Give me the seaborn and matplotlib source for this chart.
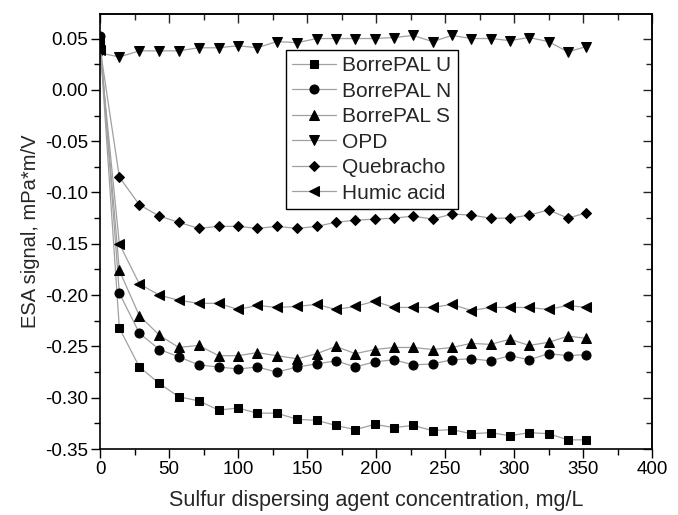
import pandas as pd
import matplotlib.pyplot as plt
import seaborn as sns
from matplotlib.ticker import MultipleLocator

# concentration, mg/L
conc = [0, 14, 28.5, 43, 57, 71.5, 86, 100, 114, 128, 143, 157, 171,
        185, 199, 213, 227, 241, 255, 269, 283, 297, 311, 325, 339, 352]

borrepal_u = [0.047, -0.232, -0.270, -0.286, -0.299, -0.303, -0.312, -0.310, -0.315, -0.315,
              -0.321, -0.322, -0.327, -0.331, -0.326, -0.329, -0.327, -0.332, -0.331, -0.335,
              -0.334, -0.337, -0.334, -0.335, -0.341, -0.341]
borrepal_n = [0.052, -0.198, -0.237, -0.253, -0.260, -0.268, -0.270, -0.272, -0.270, -0.275,
              -0.270, -0.267, -0.264, -0.270, -0.265, -0.263, -0.268, -0.267, -0.263, -0.262,
              -0.264, -0.259, -0.263, -0.257, -0.259, -0.258]
borrepal_s = [0.044, -0.176, -0.220, -0.239, -0.251, -0.249, -0.259, -0.259, -0.256, -0.259,
              -0.262, -0.257, -0.250, -0.257, -0.253, -0.251, -0.251, -0.253, -0.251, -0.247,
              -0.248, -0.243, -0.249, -0.246, -0.240, -0.242]
opd = [0.036, 0.032, 0.038, 0.038, 0.038, 0.041, 0.041, 0.043, 0.041, 0.047,
       0.046, 0.050, 0.050, 0.050, 0.050, 0.051, 0.053, 0.047, 0.053, 0.050,
       0.050, 0.048, 0.051, 0.047, 0.037, 0.042]
quebracho = [0.041, -0.085, -0.112, -0.123, -0.129, -0.135, -0.133, -0.133, -0.135, -0.133,
             -0.135, -0.133, -0.129, -0.127, -0.126, -0.125, -0.123, -0.126, -0.121, -0.122,
             -0.125, -0.125, -0.122, -0.117, -0.125, -0.120]
humic = [0.039, -0.150, -0.189, -0.200, -0.205, -0.208, -0.208, -0.214, -0.210, -0.212,
         -0.211, -0.209, -0.214, -0.211, -0.206, -0.212, -0.212, -0.212, -0.209, -0.215,
         -0.212, -0.212, -0.212, -0.214, -0.210, -0.212]

names = ["BorrePAL U", "BorrePAL N", "BorrePAL S", "OPD", "Quebracho", "Humic acid"]
series = [borrepal_u, borrepal_n, borrepal_s, opd, quebracho, humic]
markers = ["s", "o", "^", "v", "D", "<"]
msizes = [5.5, 6.5, 7, 7, 5.5, 7]

df = pd.concat([pd.DataFrame({"conc": conc, "esa": vals, "agent": n})
                for n, vals in zip(names, series)])

sns.set_theme(style="ticks")
plt.rcParams["font.family"] = ["Liberation Sans", "DejaVu Sans"]

fig = plt.figure(figsize=(6.78, 5.15), dpi=100)
ax = fig.add_axes([0.1475, 0.128, 0.8142, 0.845])

for n, m, ms in zip(names, markers, msizes):
    sns.lineplot(data=df[df["agent"] == n], x="conc", y="esa", ax=ax,
                 color="#a0a0a0", linewidth=0.9, marker=m, markersize=ms,
                 markerfacecolor="black", markeredgecolor="black",
                 label=n, sort=False, estimator=None)

ax.set_xlim(0, 400)
ax.set_ylim(-0.35, 0.074)
ax.xaxis.set_major_locator(MultipleLocator(50))
ax.xaxis.set_minor_locator(MultipleLocator(25))
ax.yaxis.set_major_locator(MultipleLocator(0.05))
ax.yaxis.set_minor_locator(MultipleLocator(0.025))
ax.yaxis.set_major_formatter(plt.FormatStrFormatter("%.2f"))

for s in ax.spines.values():
    s.set_color("black")
    s.set_linewidth(1.2)

ax.tick_params(which="both", direction="out", colors="black", labelsize=13.5, width=1, pad=2)
ax.tick_params(which="major", length=6.5)
ax.tick_params(which="minor", length=4)

# mirrored ticks on top and right, pointing inward
sec_x = ax.secondary_xaxis("top")
sec_x.xaxis.set_major_locator(MultipleLocator(50))
sec_x.xaxis.set_minor_locator(MultipleLocator(25))
sec_x.tick_params(which="both", direction="in", labeltop=False, width=1)
sec_x.tick_params(which="major", length=6.5)
sec_x.tick_params(which="minor", length=4)
sec_y = ax.secondary_yaxis("right")
sec_y.yaxis.set_major_locator(MultipleLocator(0.05))
sec_y.yaxis.set_minor_locator(MultipleLocator(0.025))
sec_y.tick_params(which="both", direction="in", labelright=False, width=1)
sec_y.tick_params(which="major", length=6.5)
sec_y.tick_params(which="minor", length=4)

ax.set_xlabel("Sulfur dispersing agent concentration, mg/L", fontsize=15.5, labelpad=9)
ax.set_ylabel("ESA signal, mPa*m/V", fontsize=14.5, labelpad=4)

leg = ax.legend(loc="upper left", bbox_to_anchor=(0.337, 0.917), fontsize=15,
                frameon=True, fancybox=False, edgecolor="black", framealpha=1,
                borderpad=0.3, labelspacing=0.31, handlelength=2.1, handletextpad=0.3,
                borderaxespad=0)
leg.get_frame().set_linewidth(1.0)

plt.savefig("out.png", dpi=100)
